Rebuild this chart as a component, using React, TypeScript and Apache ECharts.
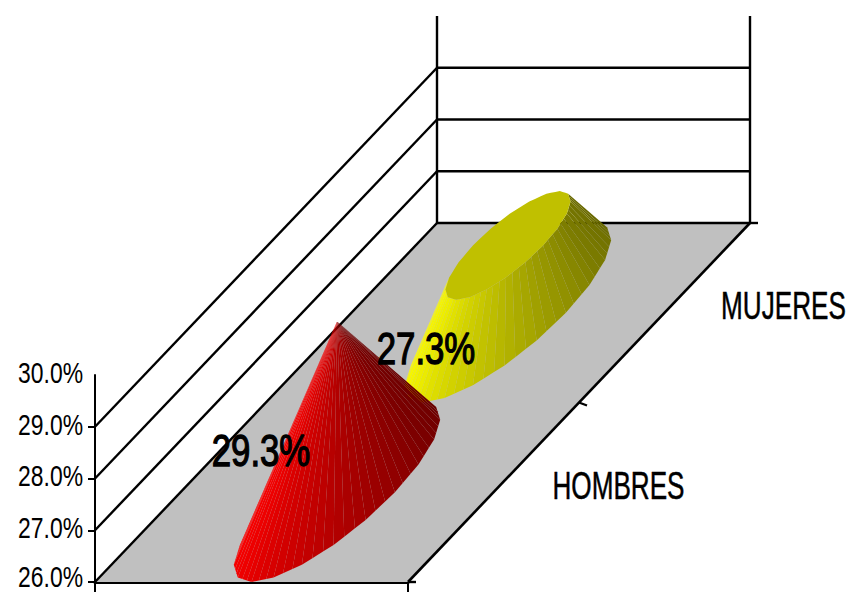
import React, { useEffect, useRef } from "react";
import * as echarts from "echarts";

const categories = ["HOMBRES", "MUJERES"];
const values = [29.3, 27.3];
const axisMin = 26;
const axisMax = 30;
const gridTicks = [26, 27, 28, 29];
const tickLabels = [26, 27, 28, 29, 30];

// Projection of the chart's depth axis (pixels per full depth) and shape settings
const DEPTH = [342, -359];
const SIDE_WIDTH = 313;
const RADIUS_U = 0.185;
const RADIUS_V = 0.25;
const FACETS = 60;
const RIM_SIDES = 20;
const FONT = "'Liberation Sans', Arial, sans-serif";
const LINE = "#000000";
const FLOOR = "#C0C0C0";

const shadeStops = [255, 235, 200, 160, 125, 105];
const baseColours = [[1, 0, 0], [1, 1, 0]];
const capColours = ["#C00000", "#C0C000"];
const labelOffsets = [[-76, -42], [-82, 36]];
const categoryOffsets = [125, 119];

function shade(t: number, colour: number[]) {
  const p = t * (shadeStops.length - 1);
  const i = Math.min(Math.floor(p), shadeStops.length - 2);
  const v = shadeStops[i] + (shadeStops[i + 1] - shadeStops[i]) * (p - i);
  return `rgb(${colour.map((c) => Math.round(c * v)).join(",")})`;
}

const depthPoint = (p: number[], v: number) => [p[0] + DEPTH[0] * v, p[1] + DEPTH[1] * v];

function line(a: number[], b: number[], width = 2.4) {
  return {
    type: "line",
    shape: { x1: a[0], y1: a[1], x2: b[0], y2: b[1] },
    style: { stroke: LINE, lineWidth: width, fill: "none" },
    silent: true,
  };
}

function renderFrame(_params: any, api: any) {
  const children: any[] = [];
  const o = api.coord([0, axisMin]);
  const r = api.coord([1, axisMin]);
  children.push({
    type: "polygon",
    shape: { points: [o, r, depthPoint(r, 1), depthPoint(o, 1)] },
    style: { fill: FLOOR, stroke: "none" },
    silent: true,
  });
  gridTicks.forEach((tick) => {
    const left = api.coord([0, tick]);
    const right = api.coord([1, tick]);
    children.push(line(left, depthPoint(left, 1)));
    children.push(line(depthPoint(left, 1), depthPoint(right, 1)));
  });
  const topL = depthPoint(api.coord([0, axisMax]), 1);
  const topR = depthPoint(api.coord([1, axisMax]), 1);
  children.push(line(depthPoint(o, 1), topL));
  children.push(line(depthPoint(r, 1), topR));
  children.push(line(r, depthPoint(r, 1), 2.6));
  [0, 0.5, 1].forEach((v) => {
    const p = depthPoint(r, v);
    children.push(line(p, [p[0] + 8, p[1] + (v === 0.5 ? 3 : 0)]));
  });
  return { type: "group", children };
}

function renderCone(_params: any, api: any) {
  const idx = api.value(0);
  const value = api.value(1);
  const peak = Math.max(...values);
  const v = (idx + 0.5) / categories.length;
  const base = depthPoint(api.coord([0.5, axisMin]), v);
  const top = depthPoint(api.coord([0.5, value]), v);
  const k = (peak - value) / (peak - axisMin);
  const corner = (n: number) => {
    const theta = (n * 2 * Math.PI) / RIM_SIDES;
    const a = RADIUS_U * SIDE_WIDTH * Math.cos(theta);
    const b = RADIUS_V * Math.sin(theta);
    return [a + b * DEPTH[0], b * DEPTH[1]];
  };
  const rim = (i: number, scale: number, c: number[]) => {
    const pos = (i * RIM_SIDES) / FACETS;
    const n = Math.floor(pos);
    const f = pos - n;
    const a = corner(n);
    const b = corner(n + 1);
    return [c[0] + scale * (a[0] + (b[0] - a[0]) * f), c[1] + scale * (a[1] + (b[1] - a[1]) * f)];
  };
  const start = FACETS / 4;
  const facets: any[] = [];
  for (let i = start; i < start + FACETS; i++) {
    const p0 = rim(i, 1, base);
    const p1 = rim(i + 1, 1, base);
    const q0 = rim(i, k, top);
    const q1 = rim(i + 1, k, top);
    const cross = (p1[0] - p0[0]) * (q0[1] - p0[1]) - (p1[1] - p0[1]) * (q0[0] - p0[0]);
    if (cross < 0) facets.push([p0, p1, q1, q0]);
  }
  const children: any[] = facets.map((pts, i) => ({
    type: "polygon",
    shape: { points: pts },
    style: { fill: shade(i / Math.max(1, facets.length - 1), baseColours[idx]), stroke: "none" },
    silent: true,
  }));
  if (k > 0) {
    const cap: number[][] = [];
    for (let i = 0; i < FACETS; i++) cap.push(rim(i, k, top));
    children.push({
      type: "polygon",
      shape: { points: cap },
      style: { fill: capColours[idx], stroke: "none" },
      silent: true,
    });
  }
  return { type: "group", children };
}

function squeezedText(text: string, x: number, y: number, size: number, scaleX: number, align: string, stroke: number) {
  return {
    type: "text",
    x,
    y,
    scaleX,
    silent: true,
    style: {
      text,
      x: 0,
      y: 0,
      fill: "#000",
      stroke: stroke > 0 ? "#000" : "none",
      lineWidth: stroke,
      font: `${size}px ${FONT}`,
      textAlign: align,
      textVerticalAlign: "middle",
    },
  };
}

function renderTickLabels(_params: any, api: any) {
  const tick = api.value(0);
  const p = api.coord([0, tick]);
  const y = Math.min(p[1] - 2, api.getHeight() - 17);
  return squeezedText(`${tick.toFixed(1)}%`, p[0] - 12, y, 29, 0.79, "right", 0);
}

function renderLabels(_params: any, api: any) {
  const idx = api.value(0);
  const value = api.value(1);
  const v = (idx + 0.5) / categories.length;
  const base = depthPoint(api.coord([0.5, axisMin]), v);
  const edge = depthPoint(api.coord([1, axisMin]), v);
  const off = labelOffsets[idx];
  return {
    type: "group",
    children: [
      squeezedText(`${value.toFixed(1)}%`, base[0] + off[0], base[1] + off[1], 44, 0.79, "center", 1.3),
      squeezedText(categories[idx], edge[0] + categoryOffsets[idx], edge[1] - 7, 39, 0.67, "center", 0.5),
    ],
  };
}

export default function App() {
  const ref = useRef<HTMLDivElement>(null);
  useEffect(() => {
    const chart = echarts.init(ref.current!, null, { renderer: "svg" });
    const rows = values.map((val, i) => [i, val]);
    chart.setOption({
      animation: false,
      backgroundColor: "#ffffff",
      grid: { left: 95, top: 375, width: 313, height: 207, containLabel: false, outerBoundsMode: "none" },
      xAxis: {
        type: "value",
        min: 0,
        max: 1,
        interval: 1,
        splitLine: { show: false },
        axisLine: { show: true, onZero: false, lineStyle: { color: LINE, width: 3 } },
        axisTick: { show: true, length: 10, lineStyle: { color: LINE, width: 2 } },
        axisLabel: { show: false },
      },
      yAxis: {
        type: "value",
        min: axisMin,
        max: axisMax,
        interval: 1,
        splitLine: { show: false },
        axisLine: { show: true, onZero: false, lineStyle: { color: LINE, width: 2 } },
        axisTick: { show: true, length: 7, customValues: gridTicks, lineStyle: { color: LINE, width: 2 } },
        axisLabel: { show: false },
      },
      series: [
        { type: "custom", name: "frame", renderItem: renderFrame, data: [[0, 0]], z: 1, clip: false, silent: true },
        { type: "custom", name: categories[1], renderItem: renderCone, data: [rows[1]], z: 2, clip: false, silent: true },
        { type: "custom", name: categories[0], renderItem: renderCone, data: [rows[0]], z: 3, clip: false, silent: true },
        { type: "custom", name: "labels", renderItem: renderLabels, data: rows, z: 4, clip: false, silent: true },
        { type: "custom", name: "ticks", renderItem: renderTickLabels, data: tickLabels.map((t) => [t]), z: 4, clip: false, silent: true },
      ],
    });
    return () => chart.dispose();
  }, []);
  return <div ref={ref} style={{ position: "absolute", left: 0, top: 0, width: 848, height: 594 }} />;
}
